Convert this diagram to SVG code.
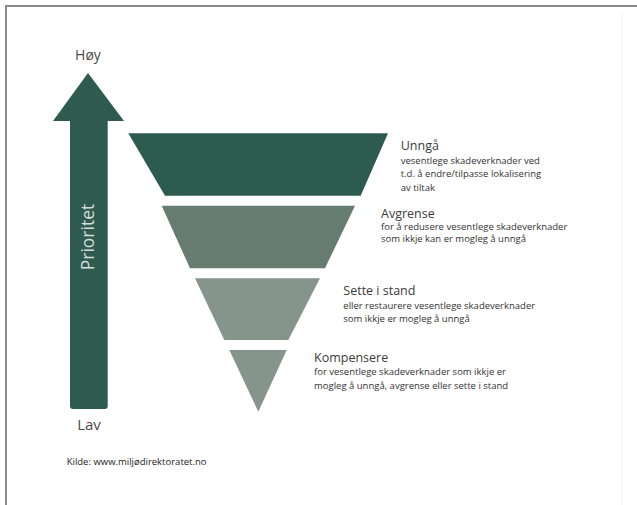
<svg xmlns="http://www.w3.org/2000/svg" width="637" height="505" viewBox="0 0 637 505">
<style>
.h{font-family:"Open Sans","Liberation Sans",sans-serif;font-size:12.5px;fill:#3a3a3a}
.b{font-family:"Open Sans","Liberation Sans",sans-serif;font-size:9.5px;fill:#333}
.ax{font-family:"Open Sans","Liberation Sans",sans-serif;font-size:14px;fill:#4a4a4a;text-anchor:middle}
</style>
<rect width="637" height="505" fill="#fff"/>
<g id="frame" fill="none">
<line x1="6" y1="6" x2="637" y2="6" stroke="#8a8a8a" stroke-width="2"/>
<line x1="6" y1="5" x2="6" y2="505" stroke="#8a8a8a" stroke-width="2"/>
<line x1="622" y1="12" x2="622" y2="505" stroke="#f3f3f3" stroke-width="1"/>
</g>
<g id="arrow">
<path d="M88 73 L124 121 L107.7 121 L107.7 406 Q107.7 409 104.7 409 L73 409 Q70 409 70 406 L70 121 L53 121 Z" fill="#2f5a4f"/>
<text x="88" y="60" class="ax">Høy</text>
<text x="89" y="430" class="ax" style="font-size:15px">Lav</text>
<text transform="translate(94,237) rotate(-90)" text-anchor="middle" font-family="'Open Sans','Liberation Sans',sans-serif" font-size="17.5" fill="#d5dcd8">Prioritet</text>
</g>
<g id="unnga">
<polygon points="128.3,133.3 388,133.3 360.7,195.7 165,195.7" fill="#2e5b4f"/>
<text x="400.7" y="149.5" class="h">Unngå</text>
<text x="400.7" y="163.5" class="b">vesentlege skadeverknader ved</text>
<text x="400.7" y="177" class="b">t.d. å endre/tilpasse lokalisering</text>
<text x="400.7" y="190.5" class="b">av tiltak</text>
</g>
<g id="avgrense">
<polygon points="161.7,205.7 355,205.7 325,268.3 190,268.3" fill="#667c71"/>
<text x="381" y="217.5" class="h">Avgrense</text>
<text x="381" y="230" class="b">for å redusere vesentlege skadeverknader</text>
<text x="381" y="241.5" class="b">som ikkje kan er mogleg å unngå</text>
</g>
<g id="sette">
<polygon points="195,278.3 320,278.3 288.3,340 224.3,340" fill="#85958b"/>
<text x="343.3" y="294.5" class="h">Sette i stand</text>
<text x="343.3" y="308.5" class="b">eller restaurere vesentlege skadeverknader</text>
<text x="343.3" y="322" class="b">som ikkje er mogleg å unngå</text>
</g>
<g id="kompensere">
<polygon points="229.3,350 286.7,350 258.3,411.7" fill="#85958b"/>
<text x="314" y="362" class="h">Kompensere</text>
<text x="314" y="375" class="b">for vesentlege skadeverknader som ikkje er</text>
<text x="314" y="388.5" class="b">mogleg å unngå, avgrense eller sette i stand</text>
</g>
<g id="connectors"/>
<text x="66.7" y="465" class="b" style="fill:#222">Kilde: www.miljødirektoratet.no</text>
</svg>
